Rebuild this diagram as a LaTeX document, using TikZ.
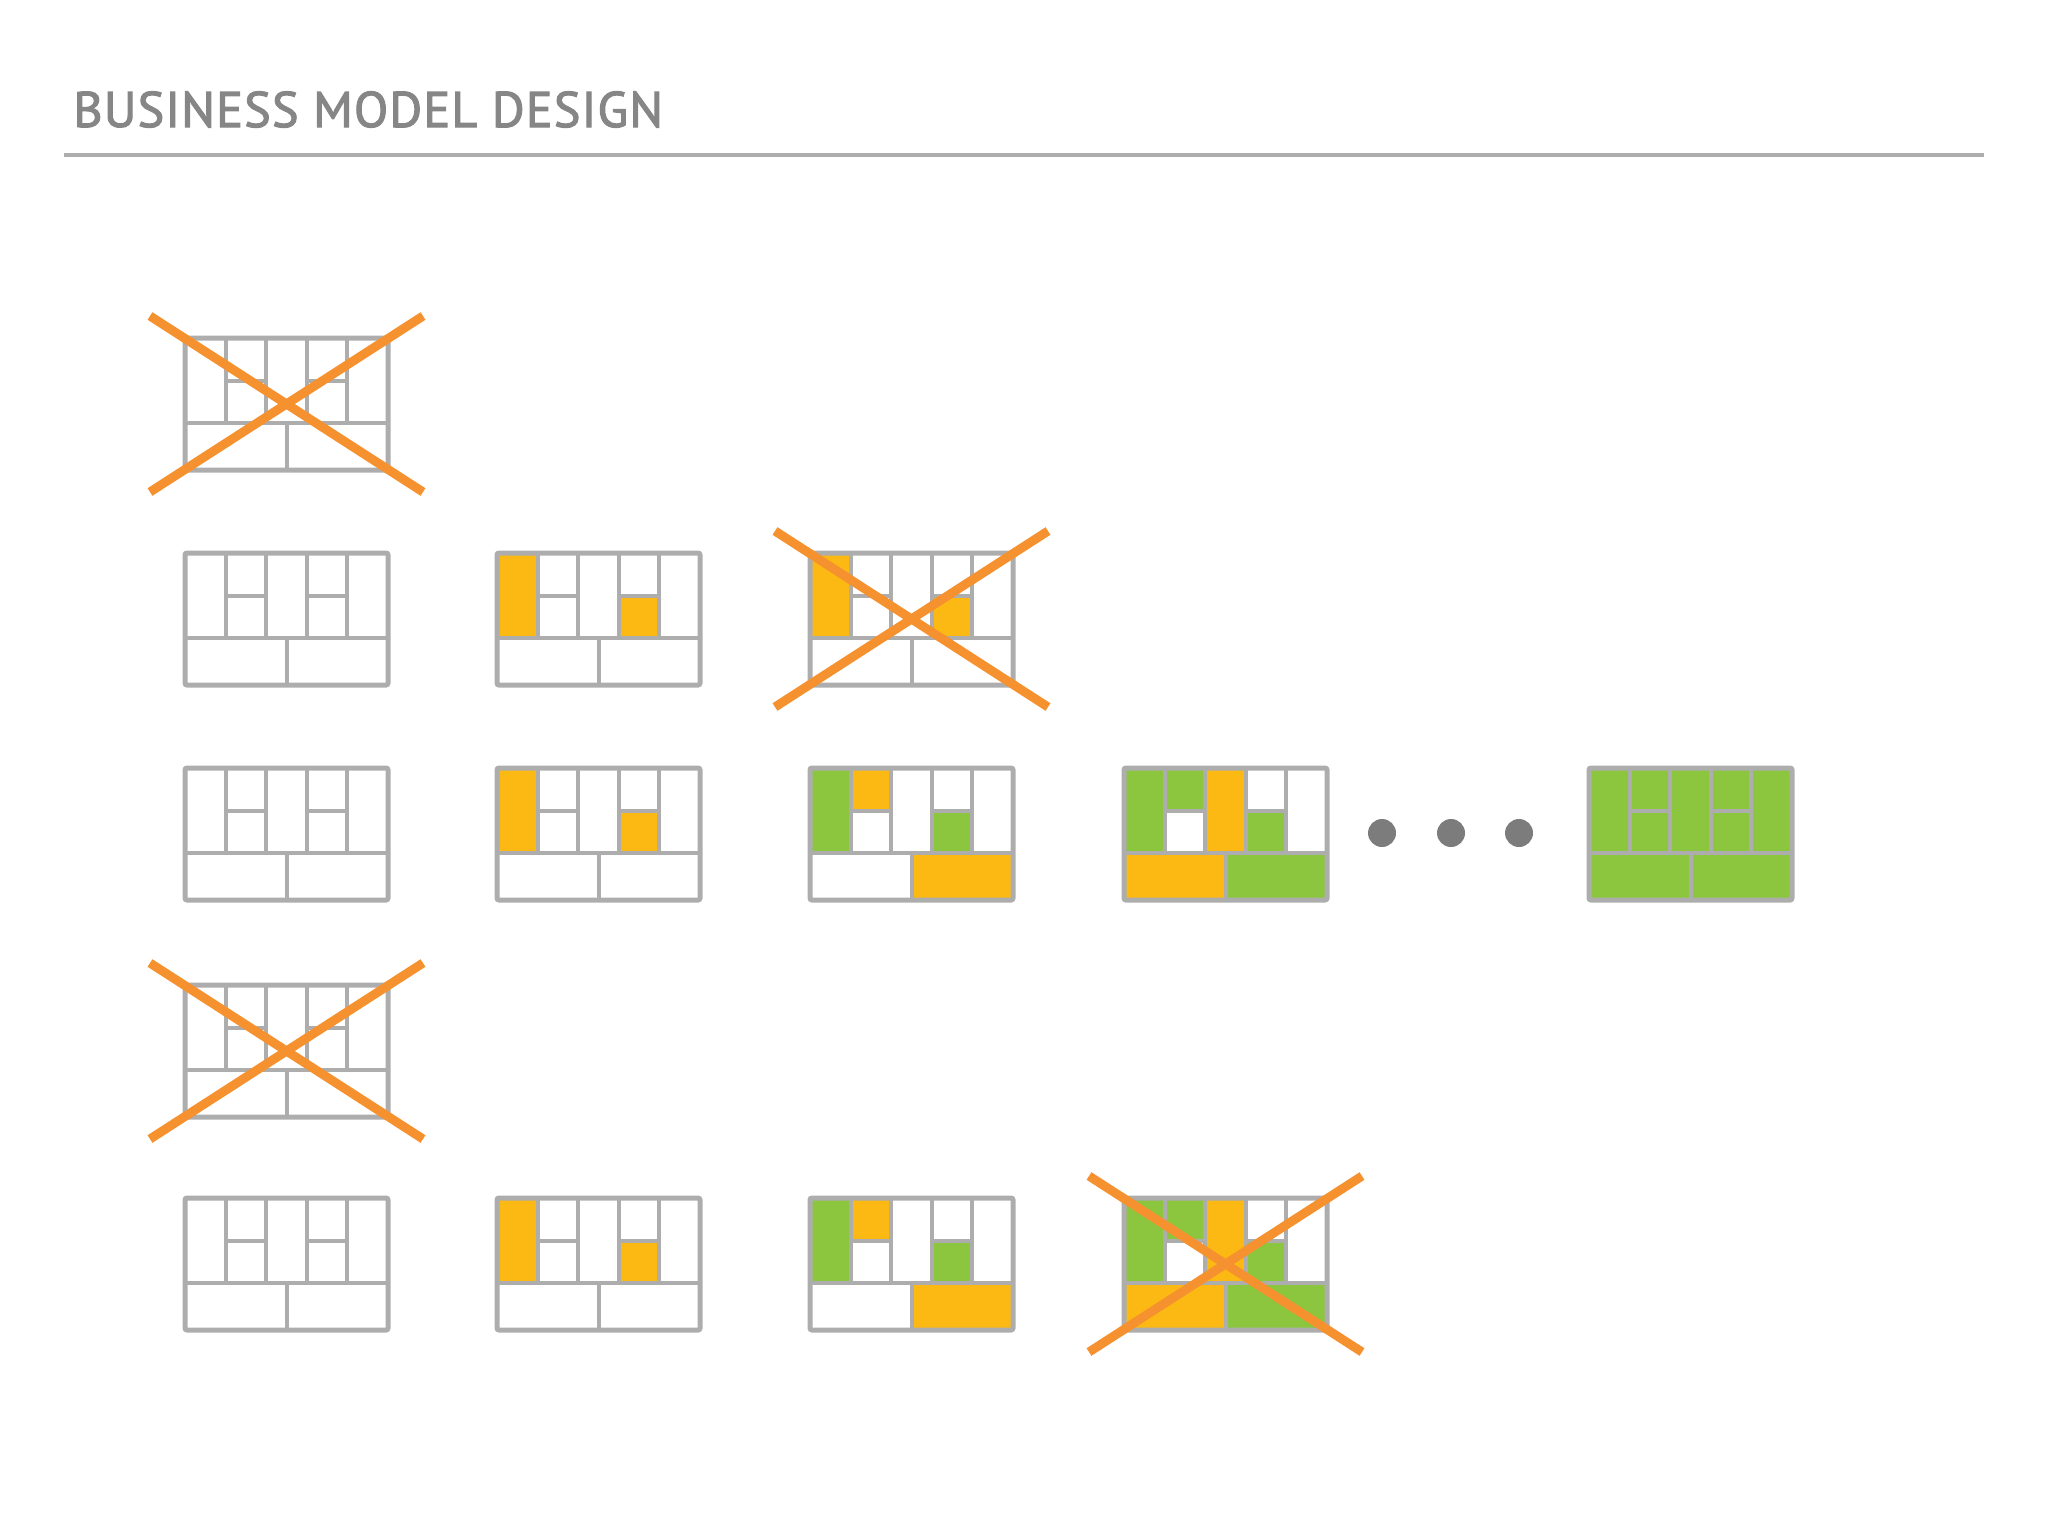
\documentclass[tikz,border=0pt]{standalone}
\usepackage{fontspec}
\newfontfamily\titlefont{PT Sans}[FakeBold=2.2, LetterSpace=2.5]
\usepackage{tikz}

\definecolor{gridgray}{HTML}{ADADAD}
\definecolor{headgray}{HTML}{868686}
\definecolor{yel}{HTML}{FDB913}
\definecolor{grn}{HTML}{8CC63F}
\definecolor{xorange}{HTML}{F5922F}
\definecolor{dotgray}{HTML}{7C7C7C}

% cells of one canvas (203 x 132, top part 85 high)
\def\cellA{(0,0) rectangle (40.6,85)}
\def\cellBa{(40.6,0) rectangle (81.2,42.5)}
\def\cellBb{(40.6,42.5) rectangle (81.2,85)}
\def\cellC{(81.2,0) rectangle (121.8,85)}
\def\cellDa{(121.8,0) rectangle (162.4,42.5)}
\def\cellDb{(121.8,42.5) rectangle (162.4,85)}
\def\cellE{(162.4,0) rectangle (203,85)}
\def\cellF{(0,85) rectangle (101.5,132)}
\def\cellG{(101.5,85) rectangle (203,132)}

% \bmccanvas{name}{x}{y}{cell/colour list}
\newcommand{\bmccanvas}[4]{%
  \begin{scope}[shift={(#2,#3)}]
    \foreach \cl/\co in {#4} {\fill[\co] \csname cell\cl\endcsname;}
    \draw[inner] (40.6,0) -- (40.6,85) (81.2,0) -- (81.2,85) (121.8,0) -- (121.8,85) (162.4,0) -- (162.4,85)
      (0,85) -- (203,85) (101.5,85) -- (101.5,132) (40.6,42.5) -- (81.2,42.5) (121.8,42.5) -- (162.4,42.5);
    \draw[outer] (0,0) rectangle (203,132);
    \coordinate (#1-nw) at (-35,-22);
    \coordinate (#1-se) at (238,154);
    \coordinate (#1-ne) at (238,-22);
    \coordinate (#1-sw) at (-35,154);
  \end{scope}}
\newcommand{\crossout}[1]{\draw[cross] (#1-nw) -- (#1-se) (#1-sw) -- (#1-ne);}

\begin{document}
\begin{tikzpicture}[x=0.5pt, y=-0.5pt,
  inner/.style={draw=gridgray, line width=2pt},
  outer/.style={draw=gridgray, line width=2.5pt, rounded corners=1pt},
  cross/.style={draw=xorange, line width=4.5pt},
  dot/.style={circle, fill=dotgray, inner sep=0pt, minimum size=14pt}]
	\useasboundingbox (0,0) rectangle (2048,1536);

	\node[anchor=base west, inner sep=0pt, text=headgray, font=\titlefont\fontsize{25}{30}\selectfont] (title) at (73,127) {BUSINESS MODEL DESIGN};
	\coordinate (rulel) at (64,155);
	\coordinate (ruler) at (1984,155);
	\draw[gridgray, line width=2pt] (rulel) -- (ruler);

	% row 1
	\bmccanvas{a1}{185}{338}{A/white}
	\crossout{a1}

	% row 2
	\bmccanvas{b1}{185}{553}{A/white}
	\bmccanvas{b2}{497}{553}{A/yel, Db/yel}
	\bmccanvas{b3}{810}{553}{A/yel, Db/yel}
	\crossout{b3}

	% row 3
	\bmccanvas{c1}{185}{768}{A/white}
	\bmccanvas{c2}{497}{768}{A/yel, Db/yel}
	\bmccanvas{c3}{810}{768}{A/grn, Ba/yel, Db/grn, G/yel}
	\bmccanvas{c4}{1124}{768}{A/grn, Ba/grn, C/yel, Db/grn, F/yel, G/grn}
	\node[dot] (d1) at (1382,833) {};
	\node[dot] (d2) at (1451,833) {};
	\node[dot] (d3) at (1519,833) {};
	\bmccanvas{c5}{1589}{768}{A/grn, Ba/grn, Bb/grn, C/grn, Da/grn, Db/grn, E/grn, F/grn, G/grn}

	% row 4
	\bmccanvas{d1}{185}{985}{A/white}
	\crossout{d1}

	% row 5
	\bmccanvas{e1}{185}{1198}{A/white}
	\bmccanvas{e2}{497}{1198}{A/yel, Db/yel}
	\bmccanvas{e3}{810}{1198}{A/grn, Ba/yel, Db/grn, G/yel}
	\bmccanvas{e4}{1124}{1198}{A/grn, Ba/grn, C/yel, Db/grn, F/yel, G/grn}
	\crossout{e4}
\end{tikzpicture}
\end{document}
